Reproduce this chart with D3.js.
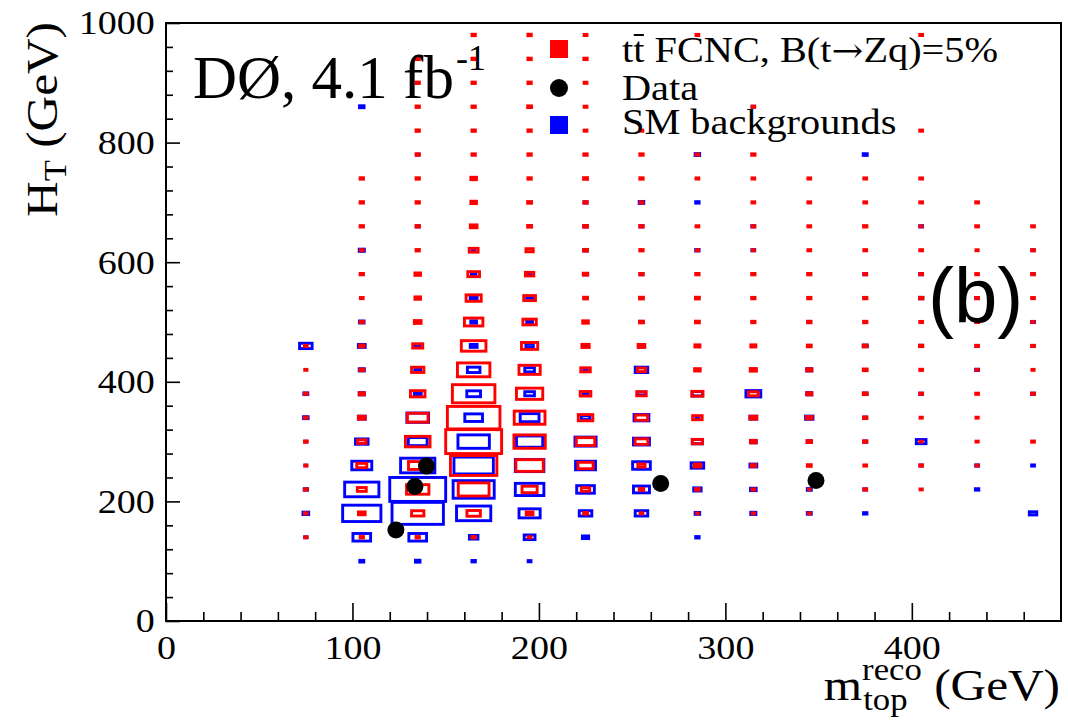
<!DOCTYPE html>
<html>
<head>
<meta charset="utf-8">
<script src="https://cdn.jsdelivr.net/npm/d3@7"></script>
<style>
  html, body { margin: 0; padding: 0; background: #fff; }
  svg { display: block; }
</style>
</head>
<body>
<svg id="chart" width="1068" height="721"></svg>
<script>
// ---- Binning (GeV) ----
const mtopCenters = [75, 105, 135, 165, 195, 225, 255, 285, 315, 345, 375, 405, 435, 465];
const htCenters = [100, 140, 180, 220, 260, 300, 340, 380, 420, 460, 500, 540,
                   580, 620, 660, 700, 740, 780, 820, 860, 900, 940, 980];

// ---- Relative bin contents (percent of histogram maximum) ----
// One array per m_top column, entries ordered by H_T from 100 to 980 GeV.
const signal = [
  [0, 4, 5, 5, 4, 5, 5, 5, 4, 5, 0, 0, 0, 0, 0, 0, 0, 0, 0, 0, 0, 0, 0],
  [0, 6, 12, 16, 18, 15, 12, 9, 7, 8, 6, 5, 6, 5, 6, 6, 6, 0, 0, 0, 0, 0, 0],
  [0, 6, 22, 40, 33, 44, 37, 26, 22, 18, 12, 10, 10, 6, 6, 6, 6, 6, 6, 6, 6, 6, 0],
  [0, 6, 24, 55, 83, 100, 94, 76, 58, 44, 33, 27, 21, 16, 12, 10, 10, 6, 6, 6, 6, 6, 6],
  [0, 5, 12, 27, 49, 56, 55, 47, 38, 29, 24, 21, 15, 13, 7, 7, 6, 6, 6, 7, 6, 6, 6],
  [0, 0, 7, 15, 27, 33, 26, 19, 17, 13, 10, 7, 8, 7, 7, 6, 7, 6, 5, 5, 5, 6, 5],
  [0, 0, 5, 8, 13, 23, 22, 17, 15, 12, 7, 7, 6, 6, 6, 5, 6, 6, 5, 0, 0, 0, 0],
  [0, 0, 3, 7, 12, 18, 17, 20, 10, 9, 7, 7, 6, 4, 5, 0, 5, 5, 0, 0, 0, 0, 5],
  [0, 0, 4, 5, 8, 10, 12, 17, 11, 9, 6, 6, 6, 4, 5, 5, 5, 6, 0, 5, 0, 0, 0],
  [0, 0, 4, 3, 7, 8, 10, 9, 9, 7, 6, 6, 6, 5, 5, 5, 5, 0, 0, 0, 0, 0, 0],
  [0, 0, 0, 5, 5, 6, 6, 7, 7, 7, 6, 6, 5, 5, 6, 5, 5, 0, 0, 0, 0, 0, 0],
  [0, 0, 0, 4, 5, 4, 4, 5, 5, 6, 5, 6, 5, 5, 4, 5, 5, 0, 5, 0, 0, 0, 5],
  [0, 0, 0, 0, 4, 4, 4, 5, 4, 5, 5, 5, 5, 4, 5, 5, 0, 0, 0, 0, 0, 0, 0],
  [0, 0, 0, 0, 0, 5, 0, 5, 4, 5, 4, 5, 5, 5, 5, 0, 0, 0, 0, 0, 0, 0, 0]
];

const background = [
  [0, 4, 10, 6, 3, 3, 8, 7, 0, 22, 0, 0, 0, 0, 0, 0, 0, 0, 0, 0, 0, 0, 0],
  [7, 31, 67, 60, 35, 22, 12, 9, 9, 12, 8, 0, 0, 9, 0, 0, 0, 0, 0, 8, 0, 0, 0],
  [8, 31, 90, 98, 60, 33, 38, 12, 10, 8, 0, 0, 0, 0, 5, 0, 0, 4, 0, 0, 0, 0, 0],
  [6, 15, 60, 72, 69, 55, 31, 24, 22, 12, 10, 12, 8, 4, 0, 0, 0, 0, 0, 0, 0, 0, 0],
  [5, 19, 37, 50, 50, 46, 33, 17, 17, 13, 10, 10, 4, 0, 0, 0, 0, 0, 0, 0, 0, 0, 0],
  [0, 11, 22, 31, 35, 37, 15, 8, 6, 4, 0, 0, 5, 6, 5, 5, 0, 0, 0, 0, 0, 0, 0],
  [0, 0, 22, 28, 31, 28, 26, 14, 22, 10, 5, 0, 5, 0, 5, 8, 0, 0, 0, 0, 0, 0, 0],
  [0, 6, 8, 13, 22, 18, 5, 18, 0, 0, 0, 0, 0, 6, 0, 6, 0, 8, 0, 0, 0, 0, 0],
  [0, 0, 9, 10, 12, 10, 12, 26, 0, 0, 0, 0, 0, 5, 5, 0, 0, 0, 0, 4, 0, 0, 0],
  [0, 0, 7, 7, 0, 7, 13, 9, 9, 0, 5, 0, 0, 0, 0, 0, 0, 0, 0, 0, 0, 0, 0],
  [0, 0, 6, 5, 0, 5, 5, 6, 0, 7, 0, 0, 5, 0, 0, 0, 0, 7, 0, 0, 0, 0, 0],
  [0, 0, 0, 0, 4, 17, 0, 5, 0, 5, 0, 6, 5, 0, 5, 0, 0, 0, 0, 0, 0, 0, 0],
  [0, 0, 0, 6, 5, 0, 0, 0, 5, 4, 0, 5, 0, 0, 0, 0, 0, 0, 0, 0, 0, 0, 0],
  [0, 0, 13, 0, 5, 0, 0, 5, 0, 4, 5, 0, 4, 4, 0, 0, 0, 0, 0, 0, 0, 0, 0]
];

// ---- Selected data events ----
const dataMtop = [123.3, 133.5, 139.7, 265.3, 348.6];
const dataHt   = [152, 225, 259, 230, 235];

// ---- Axis ticks ----
const xTickValues = [0, 100, 200, 300, 400];
const yTickValues = [0, 200, 400, 600, 800, 1000];
const xMinorStep = 20, yMinorStep = 40;

// ---- Legend ----
const legendLabels = ["tt FCNC, B(t", "Zq)=5%", "Data", "SM backgrounds"];

// ================= drawing =================
const W = 1068, H = 721;
const SERIF = "Liberation Serif, Times New Roman, serif";
const SANS = "Liberation Sans, Arial, sans-serif";
const svg = d3.select("#chart");
svg.append("rect").attr("width", W).attr("height", H).attr("fill", "#fff");

const x = d3.scaleLinear().domain([0, 480]).range([166, 1061]);
const y = d3.scaleLinear().domain([0, 1000]).range([621, 23]);
const binW = x(30) - x(0);
const binH = y(0) - y(40);
const STRETCH = 1.12;

function drawBoxes(grid, color) {
  const maxV = d3.max(grid.flat());
  const size = d3.scaleLinear().domain([0, maxV]).range([0, 1]);
  const cells = [];
  grid.forEach((col, i) => col.forEach((v, j) => {
    if (v > 0) cells.push({ m: mtopCenters[i], ht: htCenters[j], v });
  }));
  svg.append("g").selectAll("rect").data(cells).join("rect")
    .attr("x", d => x(d.m) - size(d.v) * binW / 2)
    .attr("y", d => y(d.ht) - size(d.v) * binH / 2)
    .attr("width", d => size(d.v) * binW)
    .attr("height", d => size(d.v) * binH)
    .attr("fill", "none")
    .attr("stroke", color)
    .attr("stroke-width", 2.9);
}

drawBoxes(background, "#0000ff");
drawBoxes(signal, "#ff0000");

// data events
svg.append("g").selectAll("circle").data(dataMtop.map((m, i) => [m, dataHt[i]])).join("circle")
  .attr("cx", d => x(d[0])).attr("cy", d => y(d[1])).attr("r", 8.5).attr("fill", "#000");

// axes (ticks pointing into the frame)
function styleAxis(g) {
  g.select(".domain").remove();
  g.selectAll(".tick line").attr("stroke", "#000").attr("stroke-width", 1.6);
  g.selectAll(".tick text").attr("font-size", 34).attr("fill", "#000")
    .attr("font-family", SERIF)
    .attr("transform", `scale(${STRETCH},1)`);
}
const xMinor = d3.range(0, 481, xMinorStep).filter(v => !xTickValues.includes(v) && v < 480);
const yMinor = d3.range(0, 1001, yMinorStep).filter(v => !yTickValues.includes(v) && v < 1000);

svg.append("g").attr("transform", "translate(0,621)")
  .call(d3.axisBottom(x).tickValues(xMinor).tickSize(-9).tickFormat(""))
  .call(styleAxis);
svg.append("g").attr("transform", "translate(0,621)")
  .call(d3.axisBottom(x).tickValues(xTickValues).tickSize(-18).tickPadding(14).tickFormat(d3.format("d")))
  .call(styleAxis);
svg.append("g").attr("transform", "translate(166,0)")
  .call(d3.axisLeft(y).tickValues(yMinor).tickSize(-7).tickFormat(""))
  .call(styleAxis);
svg.append("g").attr("transform", "translate(166,0)")
  .call(d3.axisLeft(y).tickValues(yTickValues).tickSize(-14).tickPadding(10).tickFormat(d3.format("d")))
  .call(styleAxis);

// frame
svg.append("rect")
  .attr("x", x(0)).attr("y", y(1000))
  .attr("width", x(480) - x(0)).attr("height", y(0) - y(1000))
  .attr("fill", "none").attr("stroke", "#000").attr("stroke-width", 2);

// y title: H_T (GeV)
const yt = svg.append("g").attr("transform", `translate(57,22) rotate(-90) scale(${STRETCH},1)`)
  .append("text").attr("text-anchor", "end").attr("font-size", 44).attr("font-family", SERIF);
yt.append("tspan").text("H");
yt.append("tspan").attr("font-size", 31).attr("dy", 9).text("T");
yt.append("tspan").attr("dy", -9).text(" (GeV)");

// x title: m_top^reco (GeV)
const xtG = svg.append("g").attr("transform", `translate(1060,700) scale(${STRETCH},1)`);
const xt = xtG.append("text").attr("text-anchor", "end").attr("font-size", 44).attr("font-family", SERIF);
xt.append("tspan").text("m");
xt.append("tspan").attr("font-size", 31).attr("dy", -20).text("reco");
xt.append("tspan").attr("dy", 20).text(" (GeV)");
const supStart = xt.node().getStartPositionOfChar(1);
xtG.append("text").attr("x", supStart.x + 1).attr("y", 10).attr("font-size", 31)
  .attr("font-family", SERIF).text("top");

// experiment label
const lab = svg.append("g").attr("transform", "translate(193,98)");
const labText = lab.append("text").attr("font-size", 61).attr("font-family", SERIF).text("D\u00D8, 4.1 fb");
const labW = labText.node().getComputedTextLength();
lab.append("text").attr("x", labW + 2).attr("y", -28).attr("font-size", 36)
  .attr("font-family", SERIF).text("-1");

// panel tag
svg.append("text").attr("x", 928).attr("y", 323)
  .attr("font-family", SANS).attr("font-size", 78).text("(b)");

// legend
const legX = 559, legRows = [49, 88, 125];
svg.append("rect").attr("x", legX - 9).attr("y", legRows[0] - 9).attr("width", 18).attr("height", 18).attr("fill", "#ff0000");
svg.append("circle").attr("cx", legX).attr("cy", legRows[1]).attr("r", 9).attr("fill", "#000");
svg.append("rect").attr("x", legX - 9).attr("y", legRows[2] - 9).attr("width", 18).attr("height", 18).attr("fill", "#0000ff");

const legBase = [62, 100, 134];
// first entry: signal label with anti-top bar and a long arrow
{
  const g = svg.append("g").attr("transform", `translate(622,${legBase[0]}) scale(${STRETCH},1)`);
  const t = g.append("text").attr("font-size", 36).attr("font-family", SERIF);
  t.append("tspan").text(legendLabels[0]);
  t.append("tspan").attr("font-family", "DejaVu Serif, serif").attr("font-size", 34).text("\u2192");
  t.append("tspan").text(legendLabels[1]);
  const a = t.node().getStartPositionOfChar(1);
  const b = t.node().getEndPositionOfChar(1);
  g.append("line").attr("x1", a.x + 0.5).attr("x2", b.x - 0.5)
    .attr("y1", -27).attr("y2", -27).attr("stroke", "#000").attr("stroke-width", 2);
}
[legendLabels[2], legendLabels[3]].forEach((lbl, i) => {
  svg.append("g").attr("transform", `translate(622,${legBase[i + 1]}) scale(${STRETCH},1)`)
    .append("text").attr("font-size", 36).attr("font-family", SERIF).text(lbl);
});
</script>
</body>
</html>
